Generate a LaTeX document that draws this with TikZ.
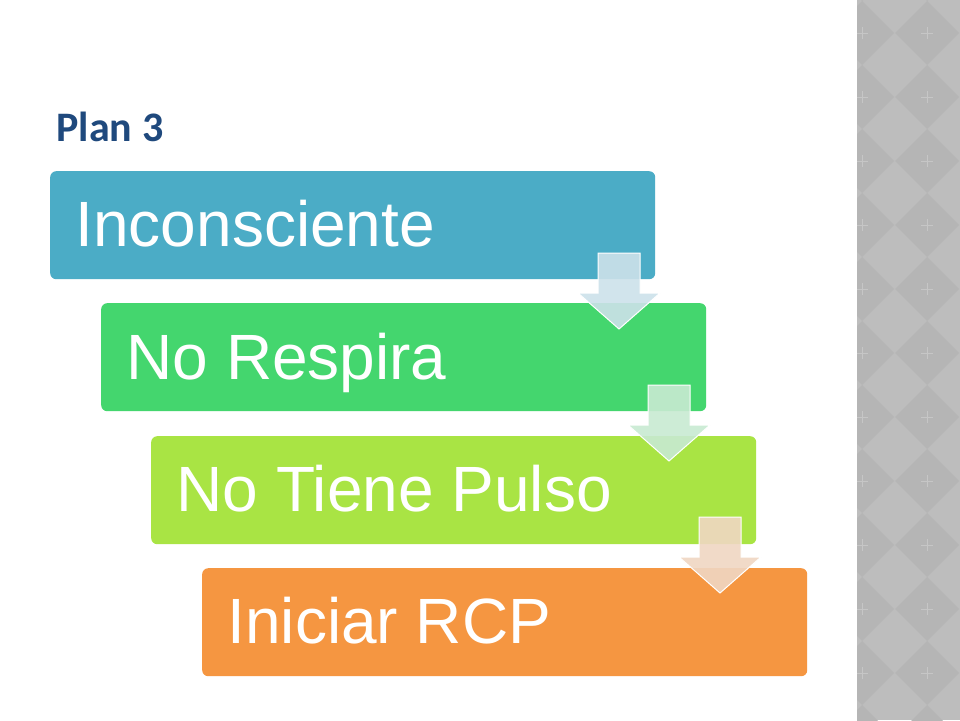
\documentclass[tikz,border=0pt]{standalone}
\usepackage{fontspec}
\setmainfont{Liberation Sans}
\newfontfamily\titlefont{Carlito}
\begin{document}
\begin{tikzpicture}[x=1pt,y=-1pt,
  stage/.style={rounded corners=6pt,anchor=north west,minimum width=605pt,minimum height=108pt,inner sep=0pt},
  stxt/.style={anchor=base west,text=white,font=\fontsize{64}{64}\selectfont},
  arr/.style={fill=#1,draw=white!80!#1,line width=1pt,fill opacity=0.85}]
\useasboundingbox (0,0) rectangle (960,720);
\fill[white] (0,0) rectangle (960,720);
% right strip
\fill[gray!52] (857,0) rectangle (960,720);
\begin{scope}
\clip (857,0) rectangle (960,720);
\foreach \j in {0,...,12}{
 \foreach \i in {0,1,2}{
  \pgfmathsetmacro{\cx}{862+65*\i}
  \pgfmathsetmacro{\cy}{33+64*\j-64}
  \fill[gray!58] (\cx,\cy-32) -- (\cx+32,\cy) -- (\cx,\cy+32) -- (\cx-32,\cy) -- cycle;
  \draw[gray!45,line width=1pt] (\cx-6,\cy)--(\cx+6,\cy) (\cx,\cy-6)--(\cx,\cy+6);
 }}
\end{scope}
\node[anchor=base west,text={rgb,255:red,31;green,73;blue,125},font=\titlefont\bfseries\fontsize{42}{42}\selectfont] (title) at (53,141) {Plan 3};
\definecolor{c1}{RGB}{75,172,198}
\definecolor{c2}{RGB}{68,214,110}
\definecolor{c3}{RGB}{169,228,68}
\definecolor{c4}{RGB}{245,150,65}
\node[stage,fill=c1] (b1) at (50,171) {};
\node[stage,fill=c2] (b2) at (101,303) {};
\node[stage,fill=c3] (b3) at (151,436) {};
\node[stage,fill=c4] (b4) at (202,568) {};
\node[stxt] (t1) at (72,246) {Inconsciente};
\node[stxt] (t2) at (123,379) {No Respira};
\node[stxt] (t3) at (173,511) {No Tiene Pulso};
\node[stxt] (t4) at (224,643) {Iniciar RCP};
\foreach \k/\dx/\dy/\c in {1/0/0/{rgb,255:red,205;green,226;blue,234},2/50/132/{rgb,255:red,200;green,234;blue,210},3/101/264/{rgb,255:red,240;green,215;blue,195}}{
 \begin{scope}[shift={(\dx,\dy)}]
 \fill[fill=\c,draw=white,line width=1pt,fill opacity=0.9] (598,253) -- (640,253) -- (640,293) -- (660,293) -- (619,329) -- (578,293) -- (598,293) -- cycle;
 \end{scope}}
\end{tikzpicture}
\end{document}
